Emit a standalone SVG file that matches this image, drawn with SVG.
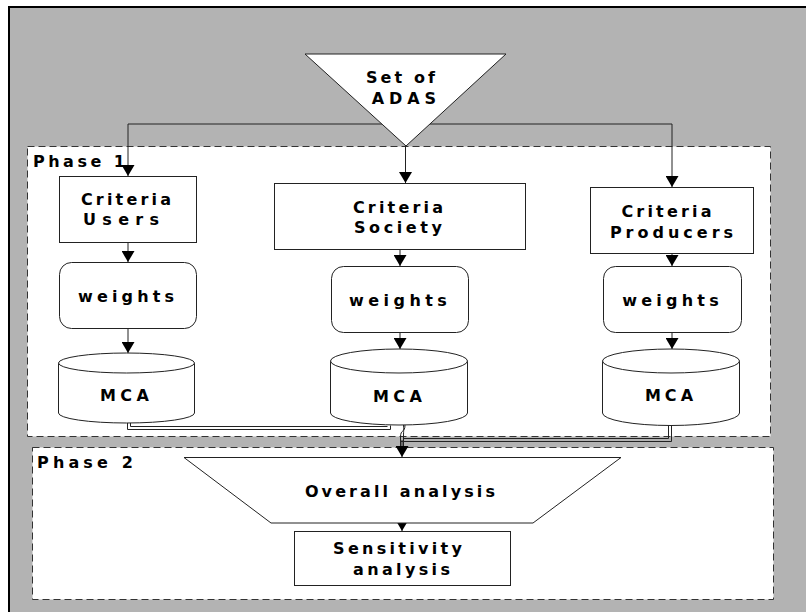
<svg xmlns="http://www.w3.org/2000/svg" width="806" height="612" viewBox="0 0 806 612">
<style>
.t{font-family:"DejaVu Sans","Liberation Sans",sans-serif;font-weight:bold;font-size:16px;fill:#000;text-anchor:middle}
.l{text-anchor:start}
.phase{fill:#fff;stroke:#333;stroke-width:1;stroke-dasharray:7 4}
.shape{fill:#fff;stroke:#222;stroke-width:1}
.c{fill:none;stroke:#222;stroke-width:1}
</style>
<defs>
<marker id="ah" markerUnits="userSpaceOnUse" markerWidth="12" markerHeight="13" refX="11" refY="6.5" orient="auto">
<path d="M0,0 L11,6.5 L0,13 Z" fill="#000"/>
</marker>
</defs>
<rect x="0" y="0" width="806" height="612" fill="#fff"/>
<rect x="9" y="7" width="820" height="620" fill="#b3b3b3" stroke="#000" stroke-width="2"/>
<g id="phase1">
<rect class="phase" x="27.5" y="146.5" width="743" height="290"/>
<text class="t l" x="33" y="167" style="letter-spacing:3.5px">Phase 1</text>
</g>
<g id="phase2">
<rect class="phase" x="32.5" y="447.5" width="741" height="152"/>
<text class="t l" x="37" y="468" style="letter-spacing:4.15px">Phase 2</text>
</g>
<g id="connectors">
<path class="c" d="M128,124 H672"/>
<path class="c" d="M128,124 V176" marker-end="url(#ah)"/>
<path class="c" d="M672,124 V187" marker-end="url(#ah)"/>
<path class="c" d="M405.5,146 V183" marker-end="url(#ah)"/>
<path class="c" d="M128,242 V262" marker-end="url(#ah)"/>
<path class="c" d="M128,328 V353" marker-end="url(#ah)"/>
<path class="c" d="M400,249 V266" marker-end="url(#ah)"/>
<path class="c" d="M400,332 V349" marker-end="url(#ah)"/>
<path class="c" d="M672,253 V266" marker-end="url(#ah)"/>
<path class="c" d="M672,332 V349" marker-end="url(#ah)"/>
<path class="c" d="M127.5,423 V429.5 H390.5 V425.5"/>
<path class="c" d="M130.5,423 V426.5 H387.5"/>
<path class="c" d="M405,425 C405,433 400.5,429 400.5,437 V448"/>
<path class="c" d="M403.5,425 C404,432 403.5,430 403.5,436 V448"/>
<path class="c" d="M671.5,425 V441.5 H400.5"/>
<path class="c" d="M668.5,425 V438.5 H403.5"/>
<path class="c" d="M402,440 V457" marker-end="url(#ah)"/>
<path class="c" d="M402,515 V531" marker-end="url(#ah)"/>
</g>
<g id="set-of-adas">
<path class="shape" d="M305,54 H506 L406,146 Z"/>
<text class="t" x="402" y="83" style="letter-spacing:3.1px">Set of</text>
<text class="t" x="406.4" y="104" style="letter-spacing:4.9px">ADAS</text>
</g>
<g id="criteria-users">
<rect class="shape" x="59.5" y="176.5" width="137" height="66"/>
<text class="t" x="127.6" y="205" style="letter-spacing:3.2px">Criteria</text>
<text class="t" x="124.2" y="225" style="letter-spacing:6.3px">Users</text>
</g>
<g id="criteria-society">
<rect class="shape" x="274.5" y="183.5" width="251" height="66"/>
<text class="t" x="399.6" y="213" style="letter-spacing:3.2px">Criteria</text>
<text class="t" x="399.8" y="233" style="letter-spacing:3.6px">Society</text>
</g>
<g id="criteria-producers">
<rect class="shape" x="590.5" y="187.5" width="163" height="66"/>
<text class="t" x="668.1" y="217" style="letter-spacing:3.2px">Criteria</text>
<text class="t" x="673.5" y="238" style="letter-spacing:4px">Producers</text>
</g>
<g id="weights-users">
<rect class="shape" x="59.5" y="262.5" width="137" height="66" rx="12"/>
<text class="t" x="128.1" y="302" style="letter-spacing:4.15px">weights</text>
</g>
<g id="weights-society">
<rect class="shape" x="331.5" y="266.5" width="137" height="66" rx="12"/>
<text class="t" x="400.2" y="306" style="letter-spacing:4.45px">weights</text>
</g>
<g id="weights-producers">
<rect class="shape" x="603.5" y="266.5" width="138" height="66" rx="12"/>
<text class="t" x="672.6" y="306" style="letter-spacing:4.25px">weights</text>
</g>
<g id="mca-users">
<path class="shape" d="M58.5,363 V413 A68,10 0 0 0 194.5,413 V363 Z"/>
<ellipse class="shape" cx="126.5" cy="363" rx="68" ry="10"/>
<text class="t" x="126.7" y="401" style="letter-spacing:4.45px">MCA</text>
</g>
<g id="mca-society">
<path class="shape" d="M330.5,361 V413 A68.5,12 0 0 0 467.5,413 V361 Z"/>
<ellipse class="shape" cx="399" cy="361" rx="68.5" ry="12"/>
<text class="t" x="399.7" y="402" style="letter-spacing:4.45px">MCA</text>
</g>
<g id="mca-producers">
<path class="shape" d="M602.5,361 V413 A68.5,12.5 0 0 0 739.5,413 V361 Z"/>
<ellipse class="shape" cx="671" cy="361" rx="68.5" ry="12"/>
<text class="t" x="671" y="401" style="letter-spacing:4.05px">MCA</text>
</g>
<g id="overall-analysis">
<path class="shape" d="M184,457.5 H621 L533,523 H271 Z"/>
<text class="t" x="401.5" y="497" style="letter-spacing:3.1px">Overall analysis</text>
</g>
<g id="sensitivity-analysis">
<rect class="shape" x="294.5" y="531.5" width="216" height="54"/>
<text class="t" x="399.2" y="554" style="letter-spacing:3.3px">Sensitivity</text>
<text class="t" x="403.2" y="575" style="letter-spacing:3.35px">analysis</text>
</g>
</svg>
